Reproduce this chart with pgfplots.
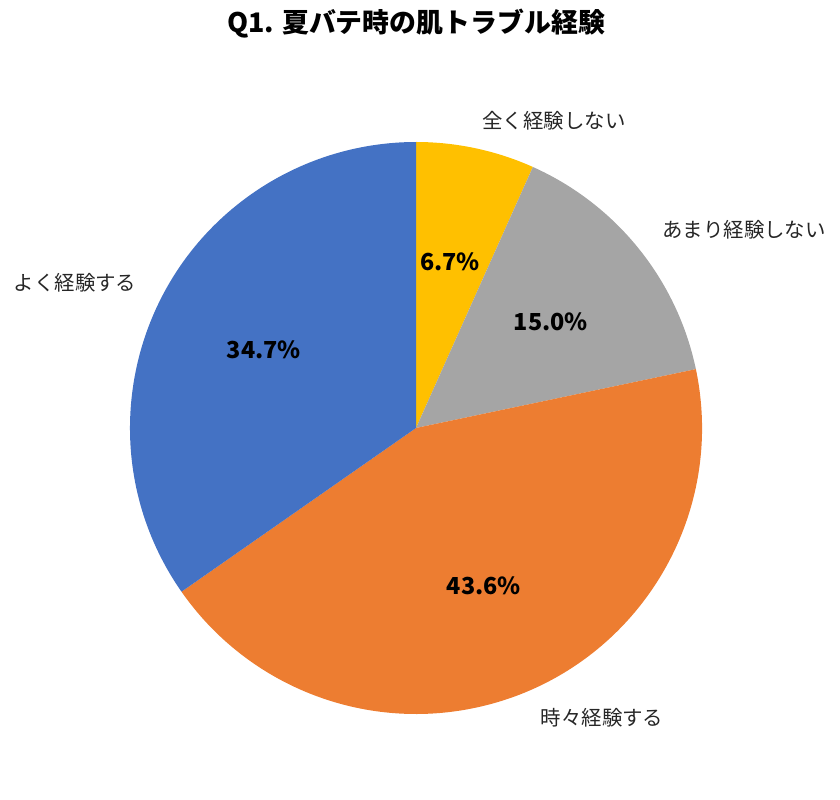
\documentclass[border=0pt]{standalone}
\usepackage{pgfplots}
\pgfplotsset{compat=1.18}
\usepackage{fontspec}
\setmainfont{Noto Sans CJK JP}

\definecolor{cblue}{HTML}{4472C4}
\definecolor{corange}{HTML}{ED7D31}
\definecolor{cgray}{HTML}{A5A5A5}
\definecolor{cyellow}{HTML}{FFC000}

% pie centre and radius, in pixel units of the picture
\def\cx{416}
\def\cy{372}
\def\rr{286}
% #1 = share before this slice (%), #2 = share (%), #3 = colour
\newcommand\slice[3]{%
  \fill[#3] (axis cs:\cx,\cy)
    -- (axis cs:{\cx+\rr*cos(90-3.6*#1)},{\cy+\rr*sin(90-3.6*#1)})
    arc[start angle={90-3.6*#1}, end angle={90-3.6*(#1+#2)}, radius=\rr]
    -- cycle;}

\begin{document}
\begin{tikzpicture}
\begin{axis}[x=1bp, y=1bp, xmin=0, xmax=840, ymin=0, ymax=800,
  hide axis, clip=false, scale only axis]
  \path (axis cs:0,0) rectangle (axis cs:840,800);
  % slices, clockwise from the top
  \slice{0}{6.7}{cyellow}
  \slice{6.7}{15.0}{cgray}
  \slice{21.7}{43.6}{corange}
  \slice{65.3}{34.7}{cblue}

  \node[font=\bfseries\fontsize{27}{32}\selectfont] at (axis cs:416,776) {Q1. 夏バテ時の肌トラブル経験};

  \begin{scope}[every node/.style={font=\fontsize{20.5}{24}\selectfont, text=black!85}]
    \node at (axis cs:554,679) {全く経験しない};
    \node at (axis cs:744,570) {あまり経験しない};
    \node at (axis cs:602,82) {時々経験する};
    \node at (axis cs:75,517) {よく経験する};
  \end{scope}

  \begin{scope}[every node/.style={font=\bfseries\fontsize{23.5}{28}\selectfont}]
    \node at (axis cs:450,538) {6.7\%};
    \node at (axis cs:551,478) {15.0\%};
    \node at (axis cs:484,214) {43.6\%};
    \node at (axis cs:264,450) {34.7\%};
  \end{scope}
\end{axis}
\end{tikzpicture}
\end{document}
